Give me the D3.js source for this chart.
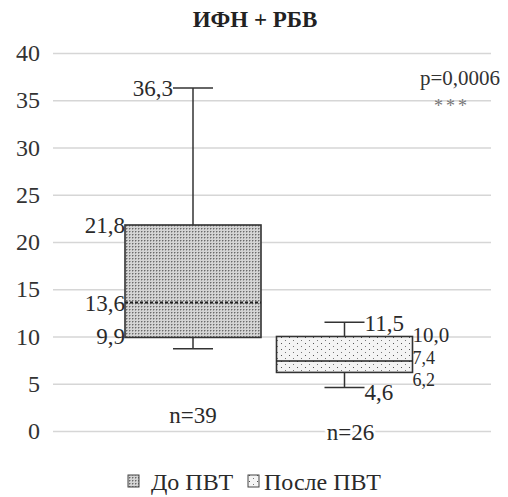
<!DOCTYPE html>
<html>
<head>
<meta charset="utf-8">
<script src="https://cdn.jsdelivr.net/npm/d3@7"></script>
<style>
  body { margin: 0; background: #fff; }
  svg { display: block; }
  svg text { font-family: "Liberation Serif", "Times New Roman", serif; }
</style>
</head>
<body>
<svg id="chart" width="508" height="497"></svg>
<script>
// data
const groups = ["До ПВТ", "После ПВТ"];
const whiskerLow = [8.7, 4.6];
const q1 = [9.9, 6.2];
const median = [13.6, 7.4];
const q3 = [21.8, 10.0];
const whiskerHigh = [36.3, 11.5];
const nValues = [39, 26];
const yTicks = [0, 5, 10, 15, 20, 25, 30, 35, 40];
const pText = "p=0,0006";
const stars = "***";

const fmt = v => d3.format(".1f")(v).replace(".", ",");

const svg = d3.select("#chart");
const plotLeft = 53, plotRight = 491, plotTop = 53, plotBottom = 431;

const y = d3.scaleLinear().domain([0, 40]).range([plotBottom, plotTop]);
const x = d3.scalePoint().domain(groups).range([193, 344.5]);
const boxW = 136, capW = 20;

// patterns
const defs = svg.append("defs");
const p1 = defs.append("pattern").attr("id", "dense").attr("patternUnits", "userSpaceOnUse")
  .attr("width", 3).attr("height", 3);
p1.append("rect").attr("width", 3).attr("height", 3).attr("fill", "#d4d4d4");
p1.append("rect").attr("width", 1).attr("height", 1).attr("fill", "#6a6a6a");
p1.append("rect").attr("x", 1).attr("width", 1).attr("height", 1).attr("fill", "#a4a4a4");
p1.append("rect").attr("y", 1).attr("width", 1).attr("height", 1).attr("fill", "#a4a4a4");

const p2 = defs.append("pattern").attr("id", "sparse").attr("patternUnits", "userSpaceOnUse")
  .attr("width", 8).attr("height", 6);
p2.append("rect").attr("width", 8).attr("height", 6).attr("fill", "#f4f4f4");
p2.append("rect").attr("x", 1).attr("y", 1).attr("width", 1).attr("height", 1).attr("fill", "#555");
p2.append("rect").attr("x", 5).attr("y", 4).attr("width", 1).attr("height", 1).attr("fill", "#777");

const fills = ["url(#dense)", "url(#sparse)"];

// gridlines
svg.append("g")
  .attr("transform", `translate(${plotLeft},0)`)
  .call(d3.axisLeft(y).tickValues(yTicks).tickSize(-(plotRight - plotLeft)).tickFormat(""))
  .call(g => g.select(".domain").remove())
  .call(g => g.selectAll("line").attr("stroke", "#d6d6d6").attr("stroke-width", 1.6));

// y labels
svg.append("g")
  .attr("transform", `translate(${plotLeft},0)`)
  .call(d3.axisLeft(y).tickValues(yTicks).tickSize(0).tickPadding(13))
  .attr("font-family", null).attr("font-size", null)
  .call(g => g.select(".domain").remove())
  .call(g => g.selectAll("text").attr("font-size", 24).attr("fill", "#333"));

// title
svg.append("text").attr("x", 255).attr("y", 27).attr("text-anchor", "middle")
  .attr("font-size", 23).attr("font-weight", "bold").attr("fill", "#222")
  .text("ИФН + РБВ");

// boxes
groups.forEach((gName, i) => {
  const cx = x(gName);
  const g = svg.append("g");
  // whiskers
  g.append("line").attr("x1", cx).attr("x2", cx).attr("y1", y(q3[i])).attr("y2", y(whiskerHigh[i]))
    .attr("stroke", "#333").attr("stroke-width", 1.5);
  g.append("line").attr("x1", cx).attr("x2", cx).attr("y1", y(q1[i])).attr("y2", y(whiskerLow[i]))
    .attr("stroke", "#333").attr("stroke-width", 1.5);
  g.append("line").attr("x1", cx - capW).attr("x2", cx + capW)
    .attr("y1", y(whiskerHigh[i])).attr("y2", y(whiskerHigh[i]))
    .attr("stroke", "#333").attr("stroke-width", 1.5);
  g.append("line").attr("x1", cx - capW).attr("x2", cx + capW)
    .attr("y1", y(whiskerLow[i])).attr("y2", y(whiskerLow[i]))
    .attr("stroke", "#333").attr("stroke-width", 1.5);
  // box
  g.append("rect").attr("x", cx - boxW / 2).attr("width", boxW)
    .attr("y", y(q3[i])).attr("height", y(q1[i]) - y(q3[i]))
    .attr("fill", fills[i]).attr("stroke", "#333").attr("stroke-width", 1.6);
  // median
  g.append("line").attr("x1", cx - boxW / 2).attr("x2", cx + boxW / 2)
    .attr("y1", y(median[i])).attr("y2", y(median[i]))
    .attr("stroke", "#222").attr("stroke-width", i === 0 ? 2 : 1.6)
    .attr("stroke-dasharray", i === 0 ? "3,2" : null);
});

// value labels
const lab = (tx, ty, t, anchor, fs = 23) => svg.append("text")
  .attr("x", tx).attr("y", ty).attr("dy", "0.35em").attr("text-anchor", anchor)
  .attr("font-size", fs).attr("fill", "#2a2a2a").text(t);

const c0 = x(groups[0]), c1 = x(groups[1]);
lab(c0 - capW, y(whiskerHigh[0]), fmt(whiskerHigh[0]), "end");
lab(c0 - boxW / 2, y(q3[0]), fmt(q3[0]), "end");
lab(c0 - boxW / 2, y(median[0]), fmt(median[0]), "end");
lab(c0 - boxW / 2, y(q1[0]) - 1, fmt(q1[0]), "end");

lab(c1 + capW, y(whiskerHigh[1]) + 1, fmt(whiskerHigh[1]), "start");
lab(c1 + boxW / 2, y(q3[1]) - 2, fmt(q3[1]), "start", 21);
lab(c1 + boxW / 2, y(median[1]) - 3, fmt(median[1]), "start", 18);
lab(c1 + boxW / 2, y(q1[1]) + 7, fmt(q1[1]), "start", 18);
lab(c1 + capW, y(whiskerLow[1]) + 4, fmt(whiskerLow[1]), "start");

// n labels (white halo so the gridline breaks under the text)
svg.append("text").attr("x", c0).attr("y", 415).attr("dy", "0.35em").attr("text-anchor", "middle")
  .attr("font-size", 23).attr("fill", "#2a2a2a").text("n=" + nValues[0]);
svg.append("text").attr("x", c1 + 6).attr("y", 432).attr("dy", "0.35em").attr("text-anchor", "middle")
  .attr("font-size", 23).attr("fill", "#2a2a2a")
  .attr("stroke", "#fff").attr("stroke-width", 5).attr("paint-order", "stroke")
  .text("n=" + nValues[1]);

// p value
svg.append("text").attr("x", 460).attr("y", 78).attr("dy", "0.35em").attr("text-anchor", "middle")
  .attr("font-size", 21).attr("fill", "#333").text(pText);
svg.append("text").attr("x", 452).attr("y", 106).attr("dy", "0.35em").attr("text-anchor", "middle")
  .attr("font-size", 18).attr("fill", "#777").attr("letter-spacing", 3).text(stars);

// legend
const leg = [{ x: 128, tx: 151 }, { x: 248, tx: 264 }];
groups.forEach((gName, i) => {
  svg.append("rect").attr("x", leg[i].x).attr("y", 475).attr("width", 11).attr("height", 12)
    .attr("fill", fills[i]).attr("stroke", "#444").attr("stroke-width", 1);
  svg.append("text").attr("x", leg[i].tx).attr("y", 482).attr("dy", "0.35em")
    .attr("font-size", 24).attr("fill", "#2a2a2a").text(gName);
});
</script>
</body>
</html>
